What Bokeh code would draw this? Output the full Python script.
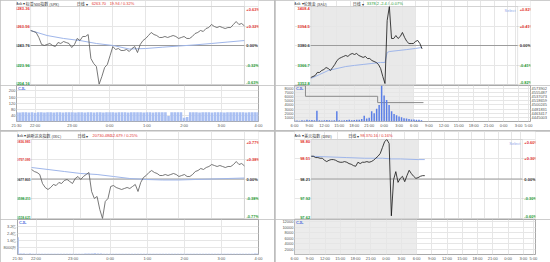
from bokeh.plotting import figure
from bokeh.models import (ColumnDataSource, FixedTicker, LabelSet, Label,
                          BoxAnnotation, LinearAxis, Range1d)
from bokeh.layouts import row, column
from bokeh.embed import file_html
from bokeh.resources import INLINE
from bokeh.core.properties import value, field

FONT = "Liberation Sans"
CJK = "Noto Sans CJK SC"
FS = "4px"
RED = "#e3342f"
GREEN = "#1d9a35"
DARK = "#333333"
GRID = "#e6e6e6"
FRAME = "#a8a8a8"
AVG = "#9fb6ea"
VOLC = "#a9bff2"
LEVEL_COLORS = [RED, RED, DARK, GREEN, GREEN]

# ---------------- US session (21:30 - 4:00), minutes after 21:30 ----------------
US_T = list(range(0, 391, 5))
US_TICKS = [0, 30, 90, 150, 210, 270, 330, 390]
US_TICK_LABELS = ["21:30", "22:00", "23:00", "0:00", "1:00", "2:00", "3:00", "4:00"]
US_AVG_T = list(range(0, 391, 30))

SPX_PRICE = [6259.0, 6258.0, 6257.0, 6251.9, 6244.8, 6243.8, 6244.8, 6245.8, 6243.8, 6242.7,
             6246.8, 6245.8, 6247.8, 6246.8, 6245.8, 6241.7, 6244.8, 6250.9, 6248.8, 6252.9,
             6252.9, 6254.9, 6230.5, 6225.5, 6222.4, 6204.5, 6212.3, 6221.4, 6224.5, 6233.6,
             6242.7, 6239.7, 6240.7, 6238.7, 6238.7, 6239.7, 6237.7, 6240.7, 6242.7, 6236.6,
             6244.8, 6248.8, 6250.9, 6253.9, 6257.0, 6254.9, 6253.9, 6251.9, 6251.9, 6252.9,
             6251.9, 6252.9, 6253.9, 6252.9, 6250.9, 6251.9, 6252.9, 6250.9, 6250.9, 6252.9,
             6255.9, 6257.0, 6259.0, 6258.0, 6261.0, 6262.0, 6265.1, 6263.1, 6262.0, 6263.1,
             6262.0, 6261.0, 6262.0, 6262.0, 6265.1, 6268.1, 6265.1, 6266.1, 6263.7]
SPX_AVG = [6259.0, 6253.9, 6250.9, 6248.8, 6245.8, 6243.8, 6240.2, 6240.7, 6242.0, 6243.2,
           6244.4, 6245.8, 6247.3, 6248.8]
SPX_VOL = [60, 59, 60, 60, 59, 60, 58, 60, 60, 59,
           60, 60, 59, 60, 60, 59, 60, 60, 60, 59,
           60, 60, 59, 60, 60, 59, 60, 60, 59, 60,
           60, 60, 59, 60, 60, 60, 59, 60, 60, 60,
           60, 59, 60, 60, 59, 60, 60, 60, 60, 36,
           60, 60, 60, 60, 25, 30, 60, 60, 60, 59,
           60, 60, 60, 59, 60, 60, 60, 59, 60, 60,
           60, 60, 60, 60, 59, 60, 60, 60, 60]
SPX_LEVELS = [6283.36, 6263.56, 6243.76, 6223.96, 6204.16]
SPX_LEVEL_TXT = ["6283.36", "6263.56", "6243.76", "6223.96", "6204.16"]
SPX_PCT = ["+0.63%", "+0.32%", "0.00%", "-0.32%", "-0.63%"]
SPX_VOL_TICKS = [40, 80, 120, 160, 200]
SPX_VOL_LABELS = ["40", "80", "120", "160", "200"]

IXIC_PRICE = [20716.1, 20708.0, 20704.0, 20695.9, 20659.7, 20643.6, 20635.5, 20643.6, 20655.7, 20651.6,
              20663.7, 20659.7, 20671.8, 20675.8, 20667.7, 20659.7, 20679.8, 20687.9, 20675.8, 20687.9,
              20695.9, 20704.0, 20627.5, 20599.3, 20607.4, 20554.9, 20518.6, 20587.1, 20599.3, 20647.6,
              20651.6, 20643.6, 20639.5, 20635.5, 20639.5, 20643.6, 20639.5, 20647.6, 20655.7, 20627.5,
              20663.7, 20683.9, 20691.9, 20704.0, 20712.0, 20704.0, 20700.0, 20691.9, 20691.9, 20695.9,
              20691.9, 20695.9, 20700.0, 20695.9, 20687.9, 20691.9, 20695.9, 20687.9, 20687.9, 20695.9,
              20708.0, 20712.0, 20720.1, 20716.1, 20724.1, 20728.2, 20736.2, 20732.2, 20728.2, 20732.2,
              20728.2, 20724.1, 20728.2, 20728.2, 20736.2, 20748.3, 20736.2, 20740.2, 20730.5]
IXIC_AVG = [20724.1, 20716.1, 20708.0, 20700.0, 20695.9, 20687.9, 20679.8, 20675.8, 20673.8, 20673.8,
            20675.8, 20677.8, 20679.8, 20681.8]
IXIC_VOL = [196000000, 12000000, 11000000, 10000000, 11000000, 10000000, 9000000, 10000000, 10000000, 9000000,
            10000000, 9000000, 10000000, 9000000, 9000000, 10000000, 9000000, 9000000, 10000000, 9000000,
            9000000, 10000000, 12000000, 11000000, 12000000, 13000000, 12000000, 11000000, 10000000, 10000000,
            9000000, 9000000, 10000000, 9000000, 9000000, 9000000, 10000000, 9000000, 9000000, 10000000,
            9000000, 9000000, 9000000, 10000000, 9000000, 9000000, 9000000, 9000000, 10000000, 9000000,
            9000000, 9000000, 9000000, 9000000, 10000000, 9000000, 9000000, 9000000, 9000000, 9000000,
            9000000, 10000000, 9000000, 9000000, 9000000, 9000000, 10000000, 9000000, 9000000, 9000000,
            9000000, 9000000, 10000000, 9000000, 9000000, 10000000, 10000000, 11000000, 12000000]
IXIC_LEVELS = [20836.981, 20757.391, 20677.801, 20598.211, 20518.621]
IXIC_LEVEL_TXT = ["20836.981", "20757.391", "20677.801", "20598.211", "20518.621"]
IXIC_PCT = ["+0.77%", "+0.38%", "0.00%", "-0.38%", "-0.77%"]
IXIC_VOL_TICKS = [80000000, 160000000, 240000000, 320000000]
IXIC_VOL_LABELS = ["8000万", "1.6亿", "2.4亿", "3.2亿"]

# ---------------- 24h session (06:00 -> 05:00 two days later), hours after 06:00 ----------------
G_T = [0.5 * k for k in range(52)]
G_TICKS = [0, 3, 6, 9, 12, 15, 18, 21, 24, 27, 30, 33, 36, 39, 42, 45, 47]
G_TICK_LABELS = ["6:00", "9:00", "12:00", "15:00", "18:00", "21:00", "0:00", "3:00", "6:00",
                 "9:00", "12:00", "15:00", "18:00", "21:00", "0:00", "3:00", "5:00"]
NIGHT_START, NIGHT_END = 0, 24

GOLD_PRICE = [3357.8, 3358.5, 3359.2, 3361.4, 3361.4, 3362.8, 3363.5, 3364.9, 3364.2, 3362.8,
              3364.9, 3367.1, 3369.9, 3371.3, 3372.1, 3372.8, 3373.5, 3372.8, 3374.2, 3374.9,
              3374.2, 3374.9, 3373.5, 3372.8, 3372.1, 3372.8, 3371.3, 3371.3, 3369.9, 3369.2,
              3368.5, 3367.1, 3364.2, 3358.5, 3353.5, 3398.4, 3408.4, 3385.6, 3385.6, 3387.7,
              3385.6, 3387.0, 3389.9, 3386.3, 3383.5, 3382.0, 3382.0, 3382.0, 3383.5, 3384.2,
              3382.0, 3378.2]
GOLD_AVG_T = [0, 2, 4, 6, 8, 10, 12, 14, 16, 17, 17.5, 18, 20, 22, 24, 25.5]
GOLD_AVG = [3357.1, 3359.9, 3362.8, 3364.2, 3365.6, 3366.4, 3367.1, 3367.8, 3368.5, 3368.5,
            3375.6, 3376.3, 3377.0, 3377.7, 3378.5, 3379.2]
GOLD_VOL = [300, 250, 200, 300, 250, 400, 300, 350, 300, 2600,
            300, 250, 300, 350, 300, 250, 300, 2500, 300, 250,
            300, 350, 400, 300, 350, 400, 450, 600, 1400, 700,
            900, 2500, 2000, 3100, 4000, 8800, 6300, 5200, 4000, 2500,
            1800, 1500, 1200, 1000, 800, 700, 600, 500, 500, 400,
            400, 300]
GOLD_OI_T = [0, 2.2, 16.7, 25.9]
GOLD_OI = [4586000, 4538700, 4510700, 4510700]
GOLD_LEVELS = [3408.4, 3394.5, 3380.6, 3366.7, 3352.8]
GOLD_LEVEL_TXT = ["3408.4", "3394.5", "3380.6", "3366.7", "3352.8"]
GOLD_PCT = ["+0.82%", "+0.41%", "0.00%", "-0.41%", "-0.82%"]
GOLD_VOL_TICKS = [1000, 2000, 3000, 4000, 5000, 6000, 7000, 8000]
GOLD_VOL_LABELS = ["1000", "2000", "3000", "4000", "5000", "6000", "7000", "8000"]
GOLD_OI_TICKS = [4445003, 4463417, 4481831, 4500245, 4518659, 4537073, 4555487, 4573902]
GOLD_OI_LABELS = ["4445003", "4463417", "4481831", "4500245", "4518659", "4537073", "4555487", "4573902"]

DXY_PRICE = [98.55, 98.55, 98.53, 98.53, 98.52, 98.52, 98.49, 98.47, 98.49, 98.50,
             98.50, 98.49, 98.47, 98.46, 98.46, 98.47, 98.46, 98.44, 98.43, 98.41,
             98.40, 98.46, 98.44, 98.46, 98.46, 98.47, 98.46, 98.47, 98.49, 98.52,
             98.55, 98.59, 98.68, 98.77, 98.80, 98.74, 97.66, 98.20, 98.32, 98.16,
             98.22, 98.25, 98.17, 98.26, 98.34, 98.29, 98.25, 98.22, 98.23, 98.25,
             98.26, 98.26]
DXY_AVG_T = [0, 4, 8, 12, 16, 18, 20, 24, 25.5]
DXY_AVG = [98.55, 98.54, 98.53, 98.52, 98.52, 98.51, 98.51, 98.50, 98.50]
DXY_LEVELS = [98.80, 98.51, 98.21, 97.92, 97.62]
DXY_LEVEL_TXT = ["98.80", "98.51", "98.21", "97.92", "97.62"]
DXY_PCT = ["+0.60%", "+0.30%", "0.00%", "-0.30%", "-0.60%"]
DXY_VOL_TICKS = [2000, 4000, 6000, 8000, 10000, 12000]
DXY_VOL_LABELS = ["2000", "4000", "6000", "8000", "10000", "12000"]


def header(p, xr, ytop, items, dy):
    for px, txt, col, font in items:
        p.add_layout(Label(x=xr[0], y=ytop, x_offset=px, y_offset=dy, text=txt,
                           text_color=col, text_font_size=FS, text_font=font,
                           text_baseline="middle", text_align="left"))


def price_panel(w, h, bl, br, bt, bb, xr, xgrid, levels, level_txt, pct_txt, lfs=FS):
    # the whole figure is the drawing area; the chart box sits inside it so that
    # the coloured level labels can be drawn beside the box
    lo, hi = levels[-1], levels[0]
    fw, fh = w - bl - br, h - bt - bb
    dx = (xr[1] - xr[0]) / fw
    dy = (hi - lo) / fh
    p = figure(width=w, height=h,
               x_range=Range1d(xr[0] - bl * dx, xr[1] + br * dx),
               y_range=Range1d(lo - bb * dy, hi + bt * dy),
               output_backend="svg", toolbar_location=None, title=None,
               min_border_left=0, min_border_right=0, min_border_top=0, min_border_bottom=0)
    p.outline_line_color = None
    p.border_fill_color = "white"
    p.background_fill_color = "white"
    p.xaxis.visible = False
    p.yaxis.visible = False
    p.xgrid.ticker = FixedTicker(ticks=xgrid)
    p.xgrid.bounds = (lo, hi)
    p.ygrid.ticker = FixedTicker(ticks=levels)
    p.ygrid.bounds = (xr[0], xr[1])
    p.grid.grid_line_color = GRID
    p.grid.grid_line_width = 1
    p.segment(x0=[xr[0]], x1=[xr[1]], y0=[levels[2]], y1=[levels[2]],
              line_color="#9c9c9c", line_width=1)
    p.add_layout(BoxAnnotation(left=xr[0], right=xr[1], bottom=lo, top=hi, fill_alpha=0,
                               line_color=FRAME, line_width=1))
    n = len(levels)
    src = ColumnDataSource(dict(xl=[xr[0]] * n, xh=[xr[1]] * n, y=levels, lt=level_txt,
                                rt=pct_txt, c=LEVEL_COLORS,
                                b=["top", "middle", "middle", "middle", "bottom"]))
    p.add_layout(LabelSet(x="xl", y="y", text="lt", source=src, x_offset=-1,
                          text_align="right", text_baseline=field("b"), text_color=field("c"),
                          text_font_size=lfs, text_font=value(FONT), text_font_style="bold"))
    p.add_layout(LabelSet(x="xh", y="y", text="rt", source=src, x_offset=2,
                          text_align="left", text_baseline=field("b"), text_color=field("c"),
                          text_font_size=FS, text_font=value(FONT), text_font_style="bold"))
    return p


def style_axis(ax):
    ax.major_label_text_font_size = FS
    ax.major_label_text_font = FONT
    ax.major_label_text_color = "#555555"
    ax.axis_line_color = None
    ax.major_tick_line_color = None
    ax.minor_tick_line_color = None
    ax.major_tick_out = 0
    ax.major_tick_in = 0
    ax.major_label_standoff = 1


def vol_panel(w, h, bl, br, bt, bb, xr, yr, xticks, xlabels, xgrid, yticks, ylabels):
    v = figure(width=w, height=h, x_range=Range1d(*xr), y_range=Range1d(*yr),
               output_backend="svg", toolbar_location=None, title=None,
               min_border_left=bl, min_border_right=br, min_border_top=bt, min_border_bottom=bb)
    v.outline_line_color = FRAME
    v.border_fill_color = "white"
    v.background_fill_color = "white"
    v.grid.grid_line_color = GRID
    v.xaxis.ticker = FixedTicker(ticks=xticks)
    v.xaxis.major_label_overrides = dict(zip(xticks, xlabels))
    v.yaxis.ticker = FixedTicker(ticks=yticks)
    v.yaxis.major_label_overrides = dict(zip(yticks, ylabels))
    v.xgrid.ticker = FixedTicker(ticks=xgrid)
    v.ygrid.ticker = FixedTicker(ticks=yticks)
    for ax in v.axis:
        style_axis(ax)
    v.add_layout(Label(x=xr[0], y=yr[1], x_offset=1.5, y_offset=-0.5, text="CJL",
                       text_color="#4f74dd", text_font_size=FS, text_font=FONT,
                       text_baseline="top", text_font_style="bold"))
    return v


LW, RW = 274, 275
US_XR = (0, 390)
G_XR = (0, 47.4)
US_GRID = US_TICKS[1:]
G_GRID = G_TICKS[1:]

# ---------------- top-left: S&P 500 ----------------
tlp = price_panel(LW, 85, 16, 16, 6, 1, US_XR, US_GRID, SPX_LEVELS, SPX_LEVEL_TXT, SPX_PCT)
tlp.line(US_AVG_T, SPX_AVG, line_color=AVG, line_width=1)
tlp.line(US_T, SPX_PRICE, line_color="#555555", line_width=0.8)
header(tlp, US_XR, SPX_LEVELS[0], [(-15, "Ask ▾", DARK, FONT), (-5, "标普500指数 (SPX)", DARK, CJK),
                                   (46, "日线 ▾", DARK, CJK), (61, "6263.70", RED, FONT),
                                   (79, "19.94 / 0.32%", RED, FONT)], 3)
tlv = vol_panel(LW, 45, 16, 16, 0, 5, US_XR, (0, 236), US_TICKS, US_TICK_LABELS, US_GRID,
                SPX_VOL_TICKS, SPX_VOL_LABELS)
tlv.vbar(x=US_T, top=SPX_VOL, width=4.2, color=VOLC, line_color=None)

# ---------------- top-right: gold ----------------
trp = price_panel(RW, 85, 19, 15, 6, 1, G_XR, G_GRID, GOLD_LEVELS, GOLD_LEVEL_TXT, GOLD_PCT)
trp.add_layout(BoxAnnotation(left=NIGHT_START, right=NIGHT_END, bottom=GOLD_LEVELS[-1],
                             top=GOLD_LEVELS[0], fill_color="#e9e9e9", fill_alpha=1,
                             line_color=None, level="image"))
trp.line(GOLD_AVG_T, GOLD_AVG, line_color=AVG, line_width=1)
trp.line(G_T, GOLD_PRICE, line_color="#111111", line_width=0.8)
header(trp, G_XR, GOLD_LEVELS[0], [(-17, "Ask ▾", DARK, FONT), (-7, "伦敦金 (XAU)", DARK, CJK),
                                   (42, "日线 ▾", DARK, CJK), (56, "3378.2", GREEN, FONT),
                                   (69, "-2.4 / -0.07%", GREEN, FONT)], 3)
trp.add_layout(Label(x=G_XR[1], y=GOLD_LEVELS[0], x_offset=-2, y_offset=-1, text="Select",
                     text_color="#8ea8ea", text_font_size=FS, text_font=FONT,
                     text_align="right", text_baseline="top"))
trv = vol_panel(RW, 45, 19, 15, 0, 5, G_XR, (0, 8700), G_TICKS, G_TICK_LABELS, G_GRID,
                GOLD_VOL_TICKS, GOLD_VOL_LABELS)
trv.add_layout(BoxAnnotation(left=NIGHT_START, right=NIGHT_END, fill_color="#ececec",
                             fill_alpha=1, line_color=None, level="image"))
trv.extra_y_ranges = {"oi": Range1d(4426589, 4586795)}
oi_axis = LinearAxis(y_range_name="oi", ticker=FixedTicker(ticks=GOLD_OI_TICKS),
                     major_label_overrides=dict(zip(GOLD_OI_TICKS, GOLD_OI_LABELS)))
style_axis(oi_axis)
trv.add_layout(oi_axis, "right")
trv.step(GOLD_OI_T, GOLD_OI, mode="after", line_color="#8a8a8a", line_width=1, y_range_name="oi")
trv.vbar(x=G_T, top=GOLD_VOL, width=0.3, color="#5b7fe6", line_color=None)

# ---------------- bottom-left: Nasdaq ----------------
blp = price_panel(LW, 88, 16, 16, 8, 1, US_XR, US_GRID, IXIC_LEVELS, IXIC_LEVEL_TXT, IXIC_PCT,
                  lfs="3.3px")
blp.line(US_AVG_T, IXIC_AVG, line_color=AVG, line_width=1)
blp.line(US_T, IXIC_PRICE, line_color="#555555", line_width=0.8)
header(blp, US_XR, IXIC_LEVELS[0], [(-15, "Ask ▾", DARK, FONT), (-5, "纳斯达克指数 (IXIC)", DARK, CJK),
                                    (46, "日线 ▾", DARK, CJK), (61, "20730.480", RED, FONT),
                                    (79, "52.679 / 0.25%", RED, FONT)], 4)
blv = vol_panel(LW, 44, 16, 16, 0, 7, US_XR, (0, 400000000), US_TICKS, US_TICK_LABELS, US_GRID,
                IXIC_VOL_TICKS, IXIC_VOL_LABELS)
blv.vbar(x=US_T, top=IXIC_VOL, width=4.2, color=VOLC, line_color=None)

# ---------------- bottom-right: dollar index ----------------
brp = price_panel(RW, 88, 19, 15, 8, 1, G_XR, G_GRID, DXY_LEVELS, DXY_LEVEL_TXT, DXY_PCT)
brp.add_layout(BoxAnnotation(left=NIGHT_START, right=NIGHT_END, bottom=DXY_LEVELS[-1],
                             top=DXY_LEVELS[0], fill_color="#e9e9e9", fill_alpha=1,
                             line_color=None, level="image"))
brp.line(DXY_AVG_T, DXY_AVG, line_color=AVG, line_width=1)
brp.line(G_T, DXY_PRICE, line_color="#111111", line_width=0.8)
header(brp, G_XR, DXY_LEVELS[0], [(-17, "Ask ▾", DARK, FONT), (-7, "美元指数 (DINI)", DARK, CJK),
                                  (37, "日线 ▾", DARK, CJK), (49, "98.37", RED, FONT),
                                  (59, "0.16 / 0.16%", RED, FONT)], 4)
brp.add_layout(Label(x=G_XR[1], y=DXY_LEVELS[0], x_offset=-2, y_offset=-1, text="Select",
                     text_color="#8ea8ea", text_font_size=FS, text_font=FONT,
                     text_align="right", text_baseline="top"))
brv = vol_panel(RW, 44, 19, 15, 0, 7, G_XR, (0, 12800), G_TICKS, G_TICK_LABELS, G_GRID,
                DXY_VOL_TICKS, DXY_VOL_LABELS)
brv.add_layout(BoxAnnotation(left=NIGHT_START, right=NIGHT_END, fill_color="#ececec",
                             fill_alpha=1, line_color=None, level="image"))

layout = column(
    row(column(tlp, tlv), column(trp, trv), spacing=1),
    row(column(blp, blv), column(brp, brv), spacing=1),
    spacing=1, styles={"background-color": "#bdbdbd"})

open("out.html", "w").write(file_html(layout, INLINE))
